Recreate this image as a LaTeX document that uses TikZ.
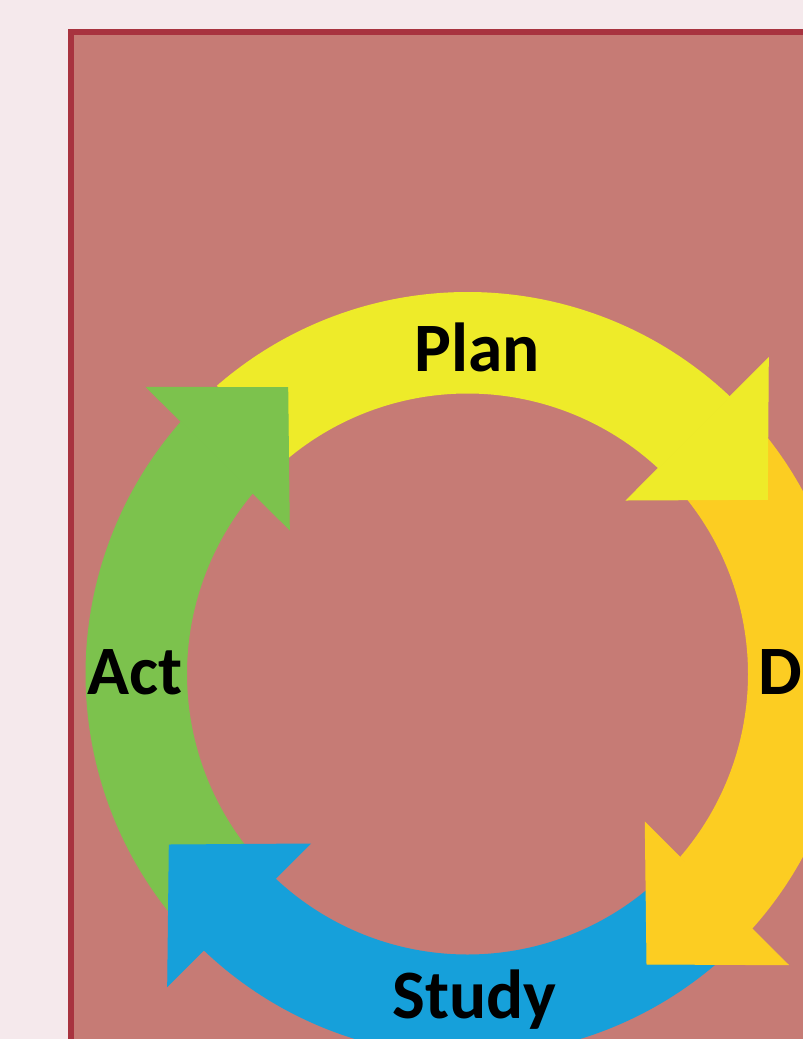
\documentclass[tikz,border=0pt]{standalone}
\usepackage{fontspec}
\setmainfont{Carlito}
\usetikzlibrary{calc}
\definecolor{pagebg}{RGB}{245,233,236}
\definecolor{panelfill}{RGB}{198,123,117}
\definecolor{panelrule}{RGB}{168,51,63}
\definecolor{planyellow}{RGB}{238,235,41}
\definecolor{dogold}{RGB}{252,205,34}
\definecolor{studyblue}{RGB}{22,160,218}
\definecolor{actgreen}{RGB}{124,194,77}
\tikzset{every picture/.style={line width=0.75pt}}

\begin{document}
\begin{tikzpicture}[x=0.75pt,y=0.75pt,yscale=-1,xscale=1,
  steplabel/.style={font=\fontsize{52}{60}\selectfont\bfseries, inner sep=0pt}]
\useasboundingbox (0,0) rectangle (803,1039);
\clip (0,0) rectangle (803,1039);
\fill [pagebg] (0,0) rectangle (803,1039);
%Shape: Rectangle [panel]
\draw [panelrule, fill=panelfill, line width=4.5pt] (71,32) rectangle (900,1100);
% centre of the cycle and the corners of the four arrow heads
\coordinate (c) at (467.5,674);
\coordinate (plan-o) at (768.3,358.3);
\coordinate (plan-tip) at (767.3,499.3);
\coordinate (plan-i) at (626.7,500);
\coordinate (do-i) at (645.3,822.7);
\coordinate (do-tip) at (647,964);
\coordinate (do-o) at (788,964.7);
\coordinate (study-i) at (310,844);
\coordinate (study-tip) at (169.3,845);
\coordinate (study-o) at (167.7,986);
\coordinate (act-o) at (146.7,387.3);
\coordinate (act-tip) at (287.7,387.7);
\coordinate (act-i) at (289.3,529.3);
%Block Arc [Plan]
\begin{scope}
\clip ($(plan-o)!-3!(plan-i)$) -- ($(plan-i)!-3!(plan-o)$) -- ($(plan-i)!-3!(plan-o)+6*(plan-i)-6*(plan-tip)$) -- ($(plan-o)!-3!(plan-i)+6*(plan-o)-6*(plan-tip)$) -- cycle;
\fill [planyellow] ($(c)+(-131:382)$) arc [start angle=-131, end angle=-25, radius=382] -- ($(c)+(-25:280.5)$) arc [start angle=-25, end angle=-131, radius=280.5] -- cycle;
\end{scope}
%Block Arc [Do]
\begin{scope}
\clip ($(do-o)!-3!(do-i)$) -- ($(do-i)!-3!(do-o)$) -- ($(do-i)!-3!(do-o)+6*(do-i)-6*(do-tip)$) -- ($(do-o)!-3!(do-i)+6*(do-o)-6*(do-tip)$) -- cycle;
\fill [dogold] ($(c)+(-39:382)$) arc [start angle=-39, end angle=65, radius=382] -- ($(c)+(65:280.5)$) arc [start angle=65, end angle=-39, radius=280.5] -- cycle;
\end{scope}
%Block Arc [Study]
\begin{scope}
\clip ($(study-o)!-3!(study-i)$) -- ($(study-i)!-3!(study-o)$) -- ($(study-i)!-3!(study-o)+6*(study-i)-6*(study-tip)$) -- ($(study-o)!-3!(study-i)+6*(study-o)-6*(study-tip)$) -- cycle;
\fill [studyblue] ($(c)+(49.4:382)$) arc [start angle=49.4, end angle=155, radius=382] -- ($(c)+(155:280.5)$) arc [start angle=155, end angle=49.4, radius=280.5] -- cycle;
\end{scope}
%Block Arc [Act]
\begin{scope}
\clip ($(act-o)!-3!(act-i)$) -- ($(act-i)!-3!(act-o)$) -- ($(act-i)!-3!(act-o)+6*(act-i)-6*(act-tip)$) -- ($(act-o)!-3!(act-i)+6*(act-o)-6*(act-tip)$) -- cycle;
\fill [actgreen] ($(c)+(-218.5:382)$) arc [start angle=-218.5, end angle=-115, radius=382] -- ($(c)+(-115:280.5)$) arc [start angle=-115, end angle=-218.5, radius=280.5] -- cycle;
\end{scope}
%Arrow heads (thin outline of the same colour hides the seam)
\filldraw [planyellow] (plan-o) -- (plan-tip) -- (plan-i) -- cycle;
\filldraw [dogold] (do-i) -- (do-tip) -- (do-o) -- cycle;
\filldraw [studyblue] (study-i) -- (study-tip) -- (study-o) -- cycle;
\filldraw [actgreen] (act-o) -- (act-tip) -- (act-i) -- cycle;
% Text Node
\node (plan) [steplabel, anchor=base] at (477.2,371.7) {Plan};
% Text Node
\node (do) [steplabel, anchor=base west] at (757.5,694) {Do};
% Text Node
\node (study) [steplabel, anchor=base] at (474.5,1018.3) {Study};
% Text Node
\node (act) [steplabel, anchor=base] at (135.5,694) {Act};
\end{tikzpicture}
\end{document}
